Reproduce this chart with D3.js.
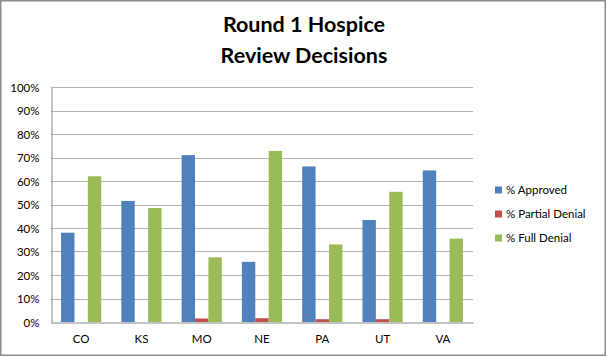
<!DOCTYPE html>
<html>
<head>
<meta charset="utf-8">
<script src="https://cdn.jsdelivr.net/npm/d3@7"></script>
<style>
  html, body { margin: 0; padding: 0; background: #fff; }
  svg { display: block; }
</style>
</head>
<body>
<svg id="chart" width="607" height="357"></svg>
<script>
const categories = ["CO", "KS", "MO", "NE", "PA", "UT", "VA"];
const seriesNames = ["% Approved", "% Partial Denial", "% Full Denial"];
const approved = [0.38, 0.515, 0.71, 0.256, 0.662, 0.434, 0.645];
const partialDenial = [0.0, 0.0, 0.015, 0.016, 0.012, 0.012, 0.0];
const fullDenial = [0.62, 0.485, 0.275, 0.728, 0.33, 0.554, 0.355];
const seriesColors = ["#4F81BD", "#C0504D", "#9BBB59"];
const yTicks = [0, 0.1, 0.2, 0.3, 0.4, 0.5, 0.6, 0.7, 0.8, 0.9, 1.0];
const titleLines = ["Round 1 Hospice", "Review Decisions"];

const seriesValues = [approved, partialDenial, fullDenial];
const FONT = "Lato, 'Open Sans', sans-serif";

const svg = d3.select("#chart");

// outer border
svg.append("rect")
  .attr("x", 0.75).attr("y", 0.75)
  .attr("width", 604.5).attr("height", 354.5)
  .attr("fill", "#fff")
  .attr("stroke", "#8c8c8c").attr("stroke-width", 1.5);

const plot = { left: 51, right: 473, top: 87, bottom: 322 };

const x = d3.scaleBand().domain(categories).range([plot.left, plot.right]).paddingInner(0).paddingOuter(0);
const xs = d3.scaleBand().domain(seriesNames).range([0, x.bandwidth()]).paddingInner(0).paddingOuter(0.75);
const y = d3.scaleLinear().domain([0, 1]).range([plot.bottom, plot.top]);

// gridlines
svg.append("g").selectAll("line").data(yTicks.filter(t => t > 0)).join("line")
  .attr("x1", plot.left).attr("x2", plot.right)
  .attr("y1", d => Math.round(y(d)) + 0.5).attr("y2", d => Math.round(y(d)) + 0.5)
  .attr("stroke", "#b3b3b3").attr("stroke-width", 1);

// y axis
const yAxis = d3.axisLeft(y).tickValues(yTicks).tickFormat(d3.format(".0%")).tickSize(0).tickPadding(12);
const gy = svg.append("g").attr("transform", `translate(${plot.left + 0.5},0.5)`).call(yAxis);
gy.select(".domain").attr("stroke", "#868686");
gy.selectAll("text").attr("font-family", FONT).attr("font-size", 11.5).attr("fill", "#000");

// bars
seriesNames.forEach((s, si) => {
  svg.append("g").selectAll("rect").data(categories).join("rect")
    .attr("x", c => x(c) + xs(s))
    .attr("width", xs.bandwidth())
    .attr("y", (c, i) => y(seriesValues[si][i]))
    .attr("height", (c, i) => y(0) - y(seriesValues[si][i]))
    .attr("fill", seriesColors[si]);
});

// x axis
const xAxis = d3.axisBottom(x).tickSize(0).tickPadding(12);
const gx = svg.append("g").attr("transform", `translate(0,${plot.bottom + 0.5})`).call(xAxis);
gx.select(".domain").attr("stroke", "#868686");
gx.selectAll("text").attr("font-family", FONT).attr("font-size", 11.5).attr("fill", "#000");

// title
svg.append("g").selectAll("text").data(titleLines).join("text")
  .attr("x", 304).attr("y", (d, i) => 32 + i * 31)
  .attr("text-anchor", "middle")
  .attr("font-family", FONT).attr("font-weight", "bold").attr("font-size", 21.5)
  .attr("fill", "#000")
  .text(d => d);

// legend
const lg = svg.append("g").selectAll("g").data(seriesNames).join("g")
  .attr("transform", (d, i) => `translate(495,${190 + i * 24})`);
lg.append("rect").attr("x", 0).attr("y", -3.5).attr("width", 7).attr("height", 7)
  .attr("fill", (d, i) => seriesColors[i]);
lg.append("text").attr("x", 11).attr("y", 4)
  .attr("font-family", FONT).attr("font-size", 11.5).attr("fill", "#000")
  .text(d => d);
</script>
</body>
</html>
